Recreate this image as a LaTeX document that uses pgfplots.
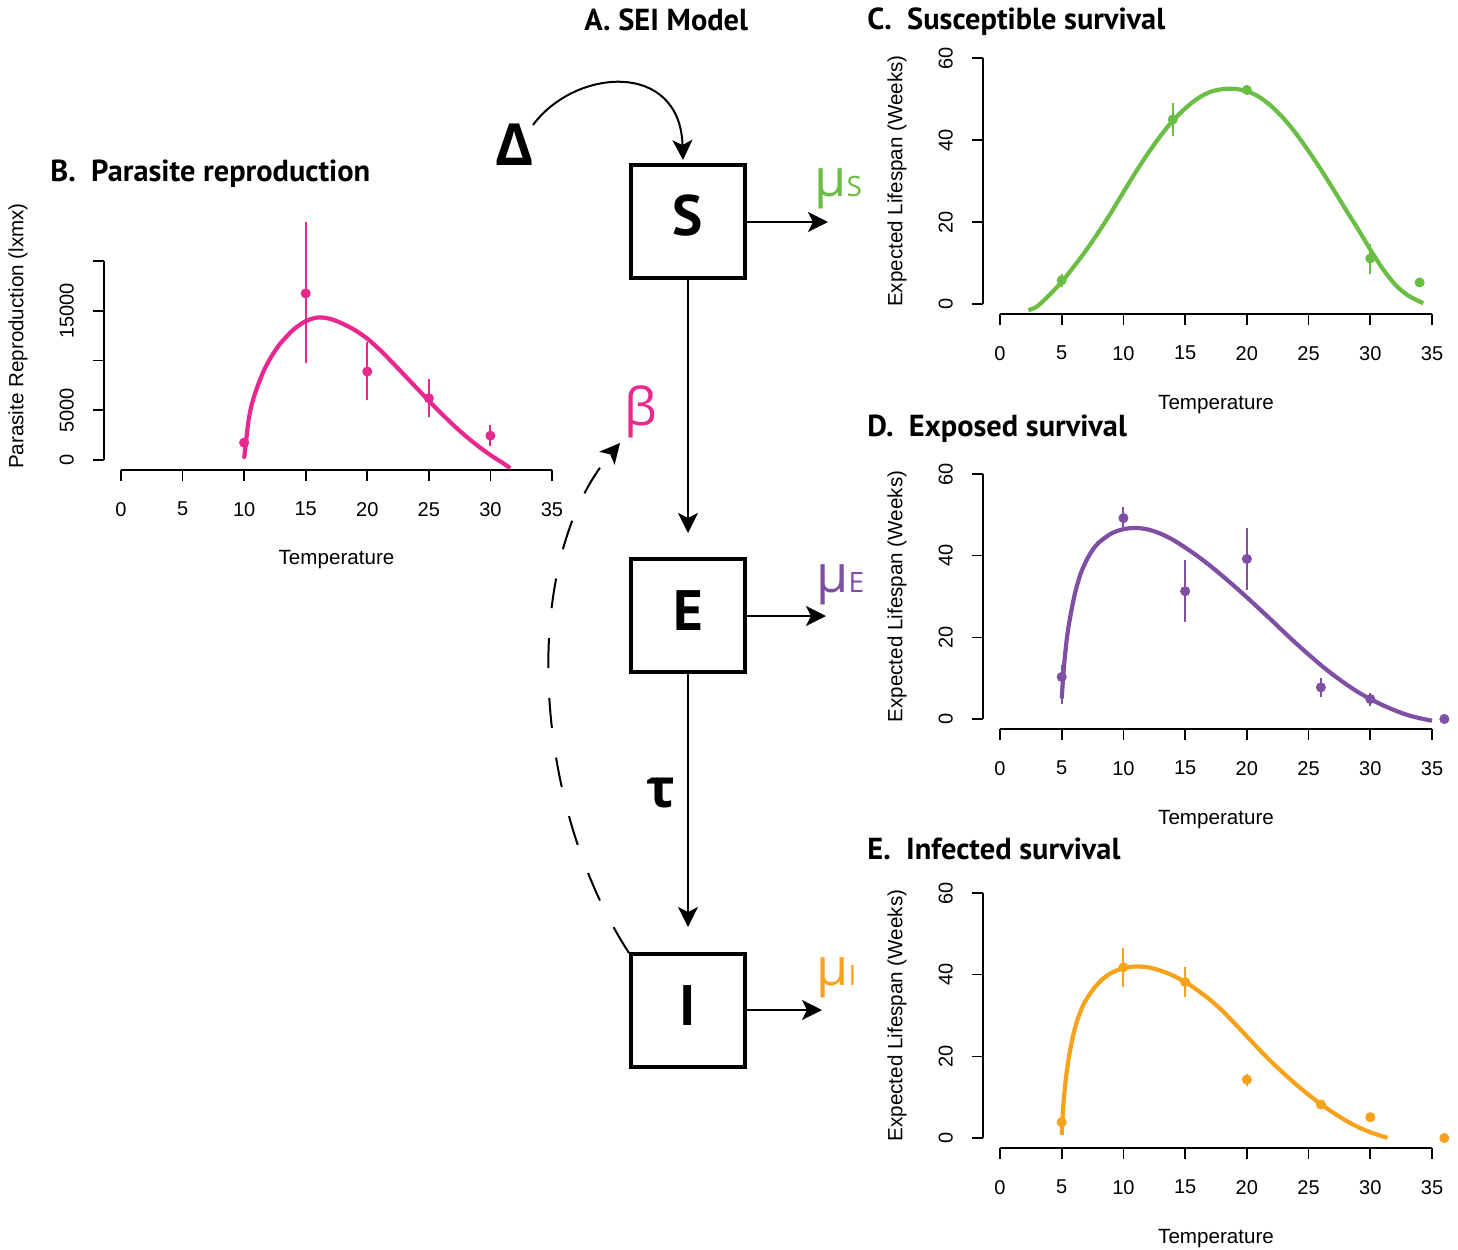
\documentclass[border=0pt]{standalone}
\usepackage{pgfplots}
\pgfplotsset{compat=1.18}
\usepackage{fontspec}
\setmainfont{Liberation Sans}
\newfontfamily\titlefont{PT Sans}
\newfontfamily\gfont{Open Sans}
\usetikzlibrary{arrows.meta}
\definecolor{cB}{HTML}{E8288E}
\definecolor{cC}{HTML}{6BBE45}
\definecolor{cD}{HTML}{7E4FA3}
\definecolor{cE}{HTML}{F6A21C}

\pgfplotsset{
  rstyle/.style={
    scale only axis, width=216pt, clip=false,
    xmin=0, xmax=35, anchor=south west,
    axis x line*=bottom, axis y line*=left,
    axis x line shift=5pt, axis y line shift=8.5pt,
    axis line style={line width=0.8pt, -},
    tick align=outside, major tick length=5.5pt,
    tick style={line width=0.8pt, black},
    scaled y ticks=false,
    xtick={0,5,10,15,20,25,30,35}, xticklabels={0,5,10,15,20,25,30,35},
    ticklabel style={font=\fontsize{10}{11}\selectfont},
    xticklabel style={yshift=-7pt},
    yticklabel style={xshift=-6pt, rotate=90, anchor=south},
    label style={font=\fontsize{10.3}{11}\selectfont},
    xlabel={Temperature},
    ylabel={Expected Lifespan (Weeks)},
    ymin=0, ymax=60, ytick={0,20,40,60}, yticklabels={0,20,40,60},
  },
  pts/.style={only marks, mark=*, mark size=2.3pt, color=#1,
    error bars/.cd, y dir=both, y explicit, error mark=none,
    error bar style={line width=1pt, color=#1}},
  crv/.style={no marks, smooth, tension=0.5, line width=2.1pt, color=#1},
}
\tikzset{ttl/.style={anchor=base west, inner sep=0, font=\titlefont\bfseries\fontsize{15.2}{15.2}\selectfont}}

\begin{document}
\begin{tikzpicture}
\useasboundingbox (0pt,0pt) rectangle (729pt,-624.5pt);

% ---------- B. Parasite reproduction ----------
\begin{axis}[rstyle, at={(60.5pt,-230pt)}, width=215.5pt, height=99.5pt,
  ymin=0, ymax=20000, ytick={0,5000,10000,15000,20000}, yticklabels={0,5000,{},15000,{}},
  ylabel={Parasite Reproduction (lxmx)},
  xlabel style={at={(axis description cs:0.5,-0.50)}, anchor=center},
  ylabel style={at={(axis description cs:-0.2390,0.623)}, anchor=center}]
\addplot[crv=cB] coordinates {(10,170) (10.15,1800) (10.35,3900) (10.6,5500) (11,7100) (11.5,8700) (12,9950) (12.5,10950) (13,11800) (14,13100) (15,13950) (16,14330) (17,14180) (18,13700) (19,13050) (20,12200) (21,11100) (22,9850) (23,8550) (24,7250) (25,5950) (26,4700) (27,3500) (28,2400) (29,1400) (30,500) (31,-300) (31.6,-800)};
\addplot[pts=cB] coordinates {
 (10,1745) += (0,255) -= (0,1645)
 (15,16745) += (0,7155) -= (0,7015)
 (20,8890) += (0,3010) -= (0,2850)
 (25,6210) += (0,1910) -= (0,1850)
 (30,2450) += (0,1040) -= (0,1010)};
\end{axis}

% ---------- C. Susceptible survival ----------
\begin{axis}[rstyle, at={(500pt,-152pt)}, height=123pt,
  xlabel style={at={(axis description cs:0.5,-0.41)}, anchor=center},
  ylabel style={at={(axis description cs:-0.2384,0.5)}, anchor=center}]
\addplot[crv=cC] coordinates {(2.3,-1.5) (3,-0.6) (4,2.2) (5,5.4) (6,9.2) (7,13.2) (8,17.6) (9,22.3) (10,27.3) (11,32.2) (12,36.8) (13,41.0) (14,44.7) (15,47.7) (16,50.1) (17,51.7) (18,52.4) (19,52.5) (20,51.9) (21,50.5) (22,48.2) (23,45.2) (24,41.5) (25,37.3) (26,32.8) (27,28.0) (28,23.1) (29,18.3) (30,13.3) (31,8.6) (32,4.8) (33,2.2) (34,0.6) (34.3,0.2)};
\addplot[pts=cC] coordinates {
 (5,5.8) += (0,1.6) -= (0,1.6)
 (14,45.0) += (0,4.0) -= (0,4.0)
 (20,52.2) += (0,0.5) -= (0,0.5)
 (30,11.1) += (0,3.6) -= (0,3.7)
 (34,5.25) += (0,0.3) -= (0,0.3)};
\end{axis}

% ---------- D. Exposed survival ----------
\begin{axis}[rstyle, at={(500pt,-359.5pt)}, height=122.5pt,
  xlabel style={at={(axis description cs:0.5,-0.412)}, anchor=center},
  ylabel style={at={(axis description cs:-0.2384,0.5)}, anchor=center}]
\addplot[crv=cD] coordinates {(5,5.0) (5.2,13.5) (5.5,21.6) (6,29.8) (6.5,35.3) (7,38.8) (7.5,41.4) (8,43.2) (9,45.4) (10,46.5) (11,46.8) (12,46.4) (13,45.4) (14,43.9) (15,42.0) (16,39.9) (17,37.6) (18,35.1) (19,32.5) (20,29.8) (21,27.0) (22,24.2) (23,21.3) (24,18.5) (25,15.8) (26,13.2) (27,10.8) (28,8.6) (29,6.6) (30,4.9) (31,3.4) (32,2.1) (33,1.0) (34,0.2) (35,-0.4)};
\addplot[pts=cD] coordinates {
 (5,10.3) += (0,3.0) -= (0,6.7)
 (10,49.2) += (0,2.8) -= (0,2.2)
 (15,31.3) += (0,7.6) -= (0,7.5)
 (20,39.2) += (0,7.6) -= (0,7.6)
 (26,7.75) += (0,2.35) -= (0,2.45)
 (30,4.9) += (0,1.5) -= (0,1.6)
 (36,0) += (0,0) -= (0,0)};
\end{axis}

% ---------- E. Infected survival ----------
\begin{axis}[rstyle, at={(500pt,-569pt)}, height=122.5pt,
  xlabel style={at={(axis description cs:0.5,-0.412)}, anchor=center},
  ylabel style={at={(axis description cs:-0.2384,0.5)}, anchor=center}]
\addplot[crv=cE] coordinates {(5,0.8) (5.12,7.5) (5.3,13.5) (5.55,19.2) (5.9,24.8) (6.3,29.2) (6.8,32.9) (7.5,36.2) (8.2,38.6) (9,40.4) (10,41.6) (11,42.0) (12,41.8) (13,41.0) (14,39.8) (15,38.2) (16,36.2) (17,33.9) (18,31.2) (19,28.1) (20,24.9) (21,21.7) (22,18.6) (23,15.8) (24,13.1) (25,10.6) (26,8.3) (27,6.2) (28,4.3) (29,2.7) (30,1.4) (31,0.4) (31.4,0.05)};
\addplot[pts=cE] coordinates {
 (5,3.9) += (0,1.4) -= (0,3.1)
 (10,41.8) += (0,4.8) -= (0,4.9)
 (15,38.2) += (0,3.8) -= (0,3.6)
 (20,14.3) += (0,1.5) -= (0,1.6)
 (26,8.2) += (0,0.5) -= (0,0.5)
 (30,5.1) += (0,0.3) -= (0,0.3)
 (36,0) += (0,0) -= (0,0)};
\end{axis}

% ---------- A. SEI model diagram and titles ----------
\begin{scope}[x=0.5pt,y=-0.5pt]
\node[ttl] at (584,30) {A. SEI Model};
\node[ttl] at (50,181) {B.\ \ Parasite reproduction};
\node[ttl] at (867,29) {C.\ \ Susceptible survival};
\node[ttl] at (867,436) {D.\ \ Exposed survival};
\node[ttl] at (867,859) {E.\ \ Infected survival};

\draw[line width=2pt] (631,165) rectangle (745,278);
\draw[line width=2pt] (631,559) rectangle (745,672);
\draw[line width=2pt] (631,954) rectangle (745,1067);
\node[inner sep=0, font=\titlefont\bfseries\fontsize{28.5}{28.5}\selectfont] at (688,216) {S};
\node[inner sep=0, font=\titlefont\bfseries\fontsize{28.5}{28.5}\selectfont] at (688,611) {E};
\node[inner sep=0, font=\titlefont\bfseries\fontsize{28.5}{28.5}\selectfont] at (688,1006) {I};
\begin{scope}[line width=1pt, -{Stealth[length=10pt,width=10pt,inset=2.5pt]}]
\draw (688,279) -- (688,533);
\draw (688,673) -- (688,927);
\draw (746,222) -- (828,222);
\draw (746,616) -- (826,616);
\draw (746,1010) -- (822,1010);
\draw (533,125) .. controls (575,68) and (680,60) .. (683,160);
\draw[dash pattern=on 15pt off 15pt] (629,953) .. controls (530,800) and (520,560) .. (620,443);
\end{scope}
\node[inner sep=0, font=\gfont\bfseries\fontsize{29}{29}\selectfont] at (515,145) {Δ};
\node[inner sep=0, text=cB, font=\gfont\fontsize{26}{26}\selectfont] at (641,412) {β};
\node[inner sep=0, font=\gfont\bfseries\fontsize{27}{27}\selectfont] at (661,793) {τ};
\node[anchor=base west, inner sep=0, text=cC] at (814,196) {\gfont\fontsize{26}{26}\selectfont μ\fontsize{14}{14}\selectfont S};
\node[anchor=base west, inner sep=0, text=cD] at (816,592) {\gfont\fontsize{26}{26}\selectfont μ\fontsize{14}{14}\selectfont E};
\node[anchor=base west, inner sep=0, text=cE] at (816,985) {\gfont\fontsize{26}{26}\selectfont μ\fontsize{14}{14}\selectfont I};
\end{scope}
\end{tikzpicture}
\end{document}
